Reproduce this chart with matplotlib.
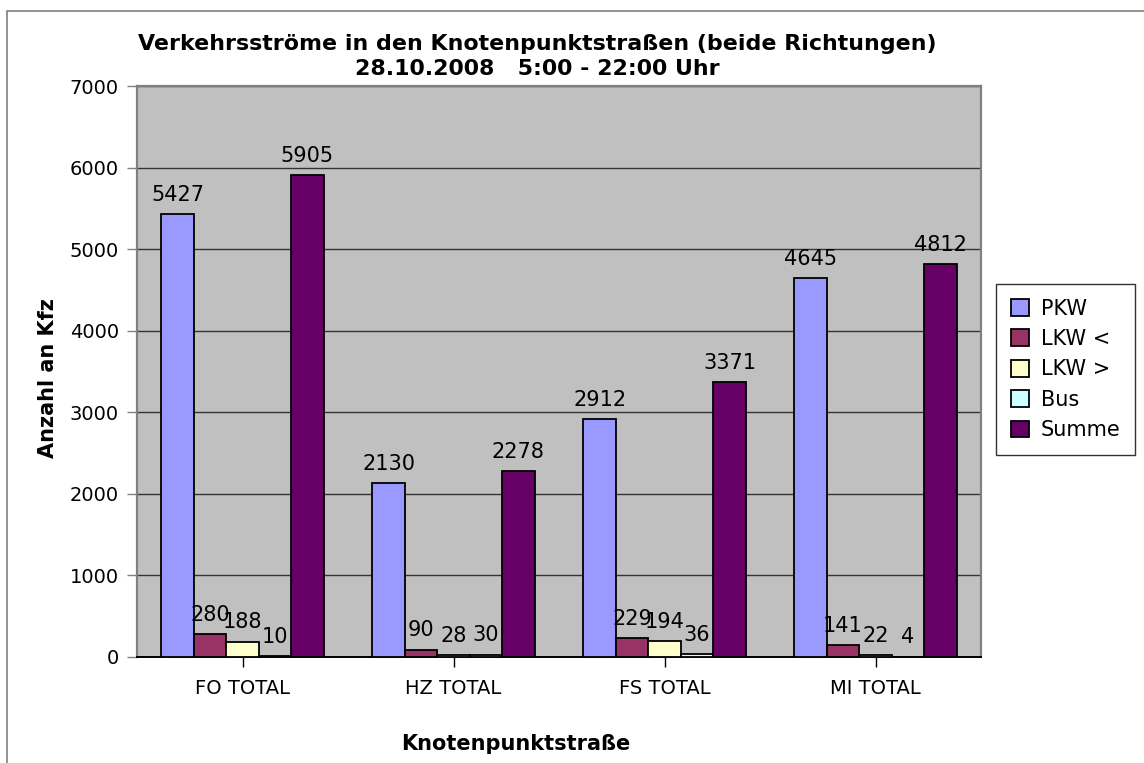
import matplotlib
matplotlib.use('Agg')
import matplotlib.pyplot as plt
import numpy as np
from matplotlib.patches import Rectangle

categories = ['FO TOTAL', 'HZ TOTAL', 'FS TOTAL', 'MI TOTAL']
pkw = [5427, 2130, 2912, 4645]
lkw_small = [280, 90, 229, 141]
lkw_large = [188, 28, 194, 22]
bus = [10, 30, 36, 4]
summe = [5905, 2278, 3371, 4812]
series_names = ['PKW', 'LKW <', 'LKW >', 'Bus', 'Summe']
series_colors = ['#9999FF', '#993366', '#FFFFCC', '#CCFFFF', '#660066']
yticks = [0, 1000, 2000, 3000, 4000, 5000, 6000, 7000]

title1 = 'Verkehrsströme in den Knotenpunktstraßen (beide Richtungen)'
title2 = '28.10.2008   5:00 - 22:00 Uhr'
xlabel = 'Knotenpunktstraße'
ylabel = 'Anzahl an Kfz'

W, H = 1144, 763
fig = plt.figure(figsize=(W / 100, H / 100), dpi=100)

# outer chart border (only left/top visible in the image)
fig.patches.append(Rectangle((7 / W, -0.2), 1.5, 1.2 - 11 / H, transform=fig.transFigure,
                             fill=False, edgecolor='#808080', linewidth=1.2, clip_on=False))

ax = fig.add_axes([137 / W, 1 - 657 / H, (981 - 137) / W, (657 - 86) / H])
ax.set_facecolor('#C0C0C0')

x = np.arange(len(categories))
w = 1 / 6.5
all_series = [pkw, lkw_small, lkw_large, bus, summe]
handles = []
for j, (vals, name, col) in enumerate(zip(all_series, series_names, series_colors)):
    bars = ax.bar(x + (j - 2) * w, vals, w, color=col, edgecolor='black', linewidth=1.3,
                  label=name, zorder=3)
    handles.append(bars)
    for b, v in zip(bars, vals):
        ax.annotate(str(v), (b.get_x() + b.get_width() / 2, v), xytext=(0, 9.5),
                    textcoords='offset points', ha='center', va='baseline', fontsize=15,
                    zorder=5)

ax.set_xlim(-0.5, len(categories) - 0.5)
ax.set_ylim(0, 7000)
ax.set_yticks(yticks)
ax.set_yticklabels([str(t) for t in yticks])
ax.set_xticks(x)
ax.set_xticklabels(categories)
ax.yaxis.grid(True, color='#333333', linewidth=1)
ax.set_axisbelow(True)

for s in ['left', 'right', 'top']:
    ax.spines[s].set_color('#808080')
    ax.spines[s].set_linewidth(1.6)
ax.spines['bottom'].set_color('black')
ax.spines['bottom'].set_linewidth(1.4)

ax.tick_params(axis='y', direction='out', length=7, width=1, color='#808080', pad=6,
               labelsize=14)
ax.tick_params(axis='x', direction='out', length=7, width=1, color='black', pad=9,
               labelsize=14)

fig.text(537 / W, 1 - 50 / H, title1, ha='center', va='baseline', fontsize=15.9,
         fontweight='bold')
fig.text(537 / W, 1 - 75 / H, title2, ha='center', va='baseline', fontsize=15.9,
         fontweight='bold')
fig.text(48 / W, 1 - 378 / H, ylabel, rotation=90, ha='center', va='center', fontsize=15,
         fontweight='bold')
fig.text(516 / W, 1 - 744 / H, xlabel, ha='center', va='center', fontsize=15,
         fontweight='bold')

leg = fig.legend(handles=handles, labels=series_names, loc='upper left',
                 bbox_to_anchor=(996 / W, 1 - 284 / H), bbox_transform=fig.transFigure,
                 fontsize=15, frameon=True, fancybox=False, edgecolor='black',
                 handlelength=0.87, handleheight=0.87, handletextpad=0.58,
                 labelspacing=0.5, borderpad=0.7, borderaxespad=0)
leg.get_frame().set_linewidth(1)

fig.savefig('out.png', dpi=100)
